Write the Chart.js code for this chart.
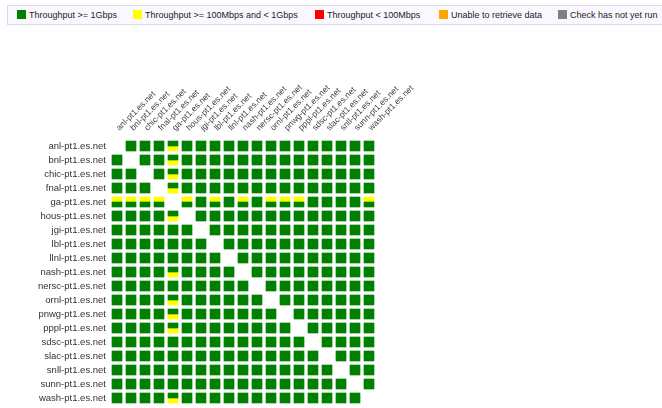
<!DOCTYPE html>
<html>
<head>
<meta charset="utf-8">
<script src="https://cdn.jsdelivr.net/npm/chart.js@4.4.0/dist/chart.umd.min.js"></script>
<style>
  html, body { margin: 0; padding: 0; background: #fff; overflow: hidden; }
  #wrap { position: relative; width: 662px; height: 408px; }
  #chartBox { position: absolute; left: 0; top: 0; width: 662px; height: 408px; }
  #legend {
    position: absolute; left: 7px; top: 5px; width: 690px; height: 18px;
    background: #faf8fe; border: 1px solid #dcdae6;
    font: 9px "Liberation Sans", Arial, sans-serif; color: #222;
  }
  .item { position: absolute; top: 0; height: 18px; line-height: 18px; white-space: nowrap; }
  .sw { display: inline-block; width: 9px; height: 9px; vertical-align: -1px; margin-right: 3px; }
</style>
</head>
<body>
<div id="wrap">
  <div id="chartBox"><canvas id="grid"></canvas></div>
  <div id="legend"></div>
</div>
<script>
const hosts = [
  'anl-pt1.es.net', 'bnl-pt1.es.net', 'chic-pt1.es.net', 'fnal-pt1.es.net',
  'ga-pt1.es.net', 'hous-pt1.es.net', 'jgi-pt1.es.net', 'lbl-pt1.es.net',
  'llnl-pt1.es.net', 'nash-pt1.es.net', 'nersc-pt1.es.net', 'ornl-pt1.es.net',
  'pnwg-pt1.es.net', 'pppl-pt1.es.net', 'sdsc-pt1.es.net', 'slac-pt1.es.net',
  'snll-pt1.es.net', 'sunn-pt1.es.net', 'wash-pt1.es.net'
];

// one char per column: G >= 1Gbps, Y 100Mbps-1Gbps, R < 100Mbps, O unable, N not run, - no test
const topHalf = [
  '-GGGGGGGGGGGGGGGGGG',
  'G-GGGGGGGGGGGGGGGGG',
  'GG-GGGGGGGGGGGGGGGG',
  'GGG-GGGGGGGGGGGGGGG',
  'YYYY-YGYGYGYYYGGGGY',
  'GGGGG-GGGGGGGGGGGGG',
  'GGGGGG-GGGGGGGGGGGG',
  'GGGGGGG-GGGGGGGGGGG',
  'GGGGGGGG-GGGGGGGGGG',
  'GGGGGGGGG-GGGGGGGGG',
  'GGGGGGGGGG-GGGGGGGG',
  'GGGGGGGGGGG-GGGGGGG',
  'GGGGGGGGGGGG-GGGGGG',
  'GGGGGGGGGGGGG-GGGGG',
  'GGGGGGGGGGGGGG-GGGG',
  'GGGGGGGGGGGGGGG-GGG',
  'GGGGGGGGGGGGGGGG-GG',
  'GGGGGGGGGGGGGGGGG-G',
  'GGGGGGGGGGGGGGGGGG-'
];
const bottomHalf = [
  '-GGGYGGGGGGGGGGGGGG',
  'G-GGYGGGGGGGGGGGGGG',
  'GG-GYGGGGGGGGGGGGGG',
  'GGG-YGGGGGGGGGGGGGG',
  'GGGG-GGGGGGGGGGGGGG',
  'GGGGY-GGGGGGGGGGGGG',
  'GGGGGG-GGGGGGGGGGGG',
  'GGGGGGG-GGGGGGGGGGG',
  'GGGGGGGG-GGGGGGGGGG',
  'GGGGYGGGG-GGGGGGGGG',
  'GGGGGGGGGG-GGGGGGGG',
  'GGGGYGGGGGG-GGGGGGG',
  'GGGGYGGGGGGG-GGGGGG',
  'GGGGYGGGGGGGG-GGGGG',
  'GGGGGGGGGGGGGG-GGGG',
  'GGGGGGGGGGGGGGG-GGG',
  'GGGGGGGGGGGGGGGG-GG',
  'GGGGGGGGGGGGGGGGG-G',
  'GGGGYGGGGGGGGGGGGG-'
];

const statusCodes = ['G', 'Y', 'R', 'O', 'N'];
const statusLabels = [
  'Throughput >= 1Gbps', 'Throughput >= 100Mbps and < 1Gbps',
  'Throughput < 100Mbps', 'Unable to retrieve data', 'Check has not yet run'
];
const statusColors = ['#008000', '#ffff00', '#ff0000', '#ffa500', '#808080'];

// legend (html)
const legendLeft = [9, 125, 307, 431, 550];
const legend = document.getElementById('legend');
statusLabels.forEach((lab, k) => {
  const it = document.createElement('div');
  it.className = 'item';
  it.style.left = legendLeft[k] + 'px';
  it.innerHTML = '<span class="sw" style="background:' + statusColors[k] + '"></span>' + lab.replace(/</g, '&lt;').replace(/>/g, '&gt;');
  legend.appendChild(it);
});

const half = 5 / 14;
function cellsFor(code) {
  let out = [];
  hosts.forEach((row, i) => {
    hosts.forEach((col, j) => {
      if (topHalf[i][j] === code) out.push({ x: col, y: [i - half, i] });
      if (bottomHalf[i][j] === code) out.push({ x: col, y: [i, i + half] });
    });
  });
  return out;
}

const datasets = statusCodes.map((c, k) => ({
  label: statusLabels[k],
  data: cellsFor(c),
  backgroundColor: statusColors[k],
  borderWidth: 0,
  barThickness: 10,
  grouped: false
}));

new Chart(document.getElementById('grid'), {
  type: 'bar',
  data: { labels: hosts, datasets: datasets },
  options: {
    responsive: true,
    maintainAspectRatio: false,
    animation: false,
    layout: { padding: { top: 0, left: 0, right: 286, bottom: 3 } },
    plugins: { legend: { display: false }, tooltip: { enabled: false } },
    scales: {
      x: {
        type: 'category',
        position: 'top',
        offset: true,
        grid: { display: false, drawTicks: false },
        border: { display: false },
        ticks: {
          autoSkip: false, minRotation: 45, maxRotation: 45, padding: 6, labelOffset: 8,
          color: '#444', font: { family: '"Liberation Sans", Arial, sans-serif', size: 8.5 }
        },
        afterFit: s => { s.height = 139; s.paddingLeft = 0; s.paddingRight = 0; }
      },
      y: {
        type: 'linear',
        min: -0.5,
        max: 18.5,
        reverse: true,
        grid: { display: false, drawTicks: false },
        border: { display: false },
        afterBuildTicks: s => { s.ticks = hosts.map((h, i) => ({ value: i })); },
        ticks: {
          autoSkip: false, padding: 4,
          color: '#333', font: { family: '"Liberation Sans", Arial, sans-serif', size: 9.5 },
          callback: v => hosts[v]
        },
        afterFit: s => { s.width = 110; s.paddingTop = 0; s.paddingBottom = 0; }
      }
    }
  }
});
</script>
</body>
</html>
